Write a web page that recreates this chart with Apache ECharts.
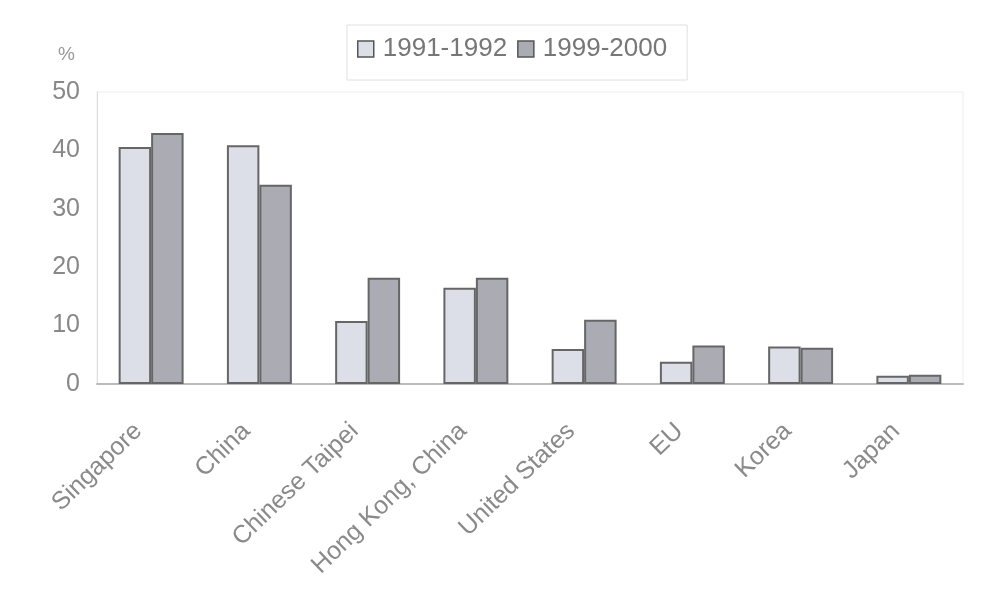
<!DOCTYPE html>
<html><head><meta charset="utf-8">
<script src="https://cdn.jsdelivr.net/npm/echarts@6/dist/echarts.min.js"></script>
<style>html,body{margin:0;padding:0;background:#fff}#c{width:987px;height:601px}</style>
</head><body><div id="c"></div>
<script>
const categories = ["Singapore","China","Chinese Taipei","Hong Kong, China","United States","EU","Korea","Japan"];
const seriesNames = ["1991-1992","1999-2000"];
const values1991 = [40.6, 40.9, 10.8, 16.5, 6.0, 3.8, 6.4, 1.4];
const values1999 = [43.0, 34.1, 18.2, 18.2, 11.0, 6.6, 6.2, 1.6];
const yTicks = [0, 10, 20, 30, 40, 50];

const chart = echarts.init(document.getElementById('c'));
chart.setOption({
  backgroundColor: '#fff',
  animation: false,
  legend: {
    top: 25, left: 347,
    icon: 'rect',
    itemWidth: 16, itemHeight: 16, itemGap: 10,
    padding: [11, 20, 18, 10],
    borderColor: '#e0e0e0', borderWidth: 1,
    itemStyle: { borderColor: '#555', borderWidth: 1.5 },
    textStyle: { color: '#777', fontSize: 26, fontFamily: 'Liberation Sans', padding: [0, 0, 0, 4] },
    data: seriesNames
  },
  grid: {
    left: 97, right: 24, top: 92, bottom: 217,
    show: true, borderColor: '#eeeeee', borderWidth: 1
  },
  xAxis: {
    type: 'category', data: categories,
    axisLine: { lineStyle: { color: '#bbb', width: 2 } },
    axisTick: { show: false },
    axisLabel: { rotate: 44, color: '#8a8a8a', fontSize: 25, fontFamily: 'Liberation Sans', interval: 0, margin: 31, padding: [0, 18, 0, 0] }
  },
  yAxis: {
    type: 'value', min: yTicks[0], max: yTicks[yTicks.length - 1], interval: 10,
    name: '%', nameLocation: 'end', nameGap: 28,
    nameTextStyle: { color: '#999', fontSize: 19, align: 'right', padding: [0, 22, 0, 0] },
    axisLine: { show: true, lineStyle: { color: '#ddd' } },
    axisTick: { show: false },
    splitLine: { show: false },
    axisLabel: { color: '#888', fontSize: 25, fontFamily: 'Liberation Sans', margin: 17 }
  },
  series: [
    { name: seriesNames[0], type: 'bar', data: values1991, barGap: '0%', barCategoryGap: '40%',
      itemStyle: { color: '#dcdee8', borderColor: '#666', borderWidth: 2 } },
    { name: seriesNames[1], type: 'bar', data: values1999, barGap: '0%', barCategoryGap: '40%',
      itemStyle: { color: '#ababb4', borderColor: '#666', borderWidth: 2 } }
  ]
});
</script></body></html>
